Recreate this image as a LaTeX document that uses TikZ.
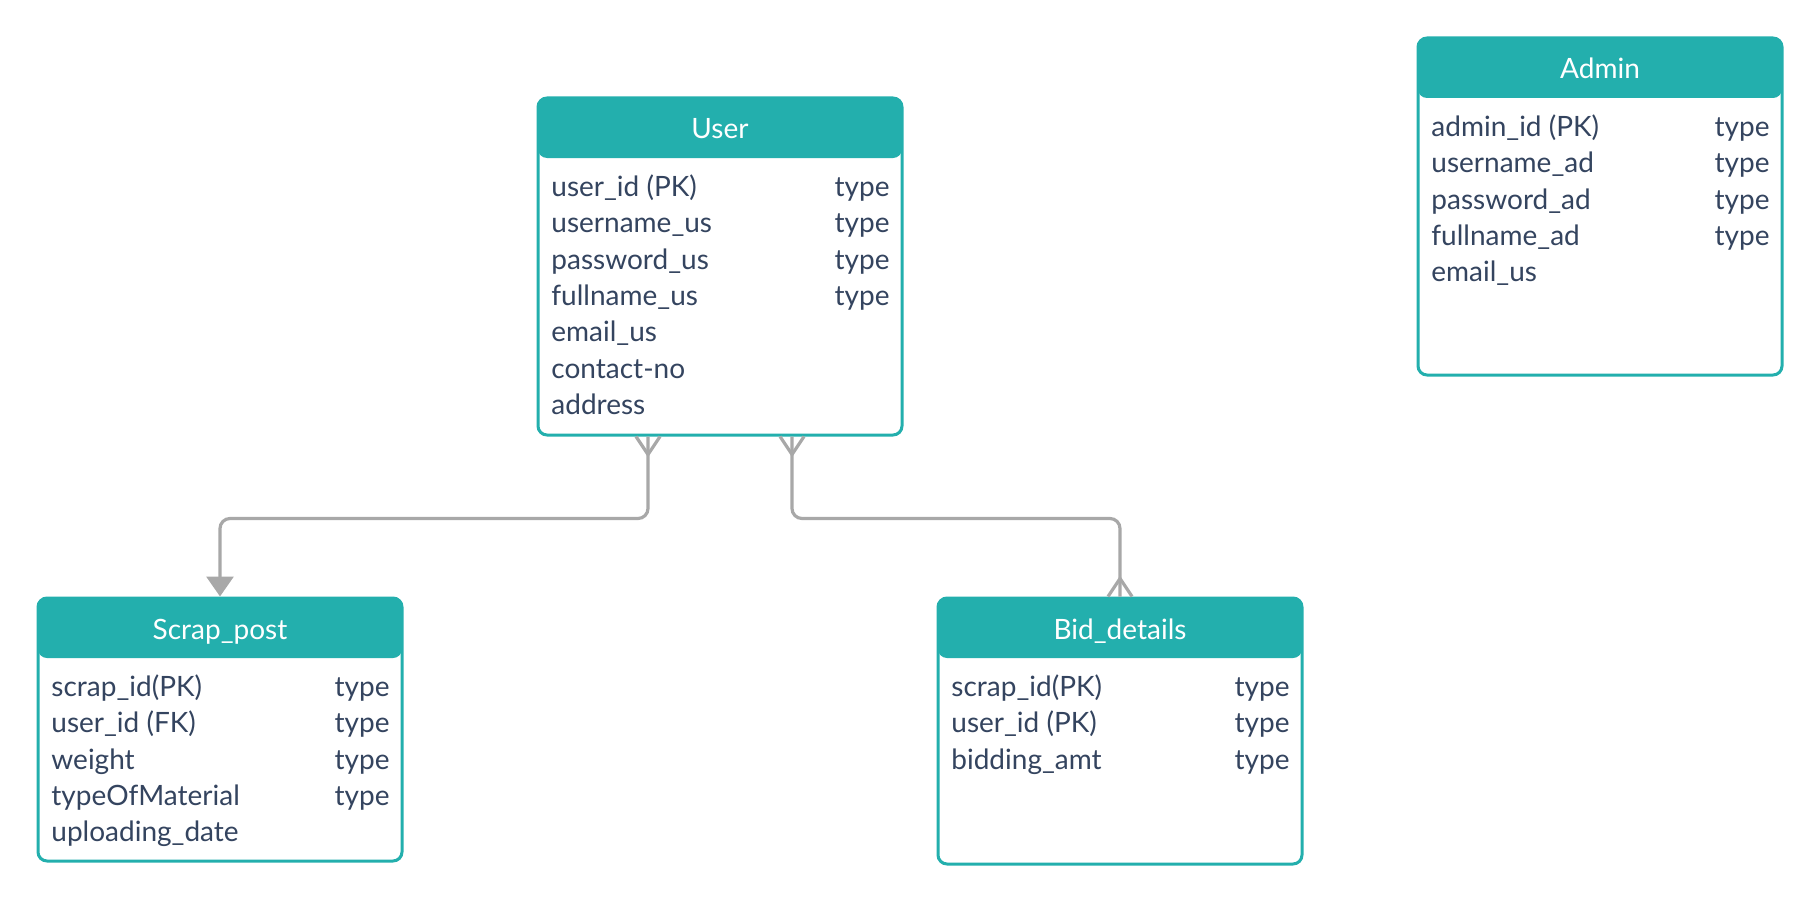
\documentclass[tikz,border=0pt]{standalone}
\usepackage{fontspec}
\setmainfont{Lato}
\usetikzlibrary{arrows.meta, calc}
\definecolor{headteal}{HTML}{23AFAD}
\definecolor{fieldtext}{HTML}{34445F}
\definecolor{linkgrey}{HTML}{A8A8A8}

\begin{document}
\begin{tikzpicture}[x=0.5pt, y=-0.5pt]
    \tikzstyle{entity} = [rectangle, rounded corners=4.5pt, draw=headteal, line width=1.5pt, fill=white, inner sep=0pt, minimum width=182pt, path picture={\fill[headteal] (path picture bounding box.north west) rectangle ([yshift=-30pt]path picture bounding box.north east);}]
    \tikzstyle{title} = [text=white, inner sep=0pt, anchor=base, font=\fontsize{14pt}{16pt}\selectfont]
    \tikzstyle{field} = [text=fieldtext, inner sep=0pt, anchor=base west, font=\fontsize{14pt}{16pt}\selectfont]
    \tikzstyle{ftype} = [text=fieldtext, inner sep=0pt, anchor=base east, font=\fontsize{14pt}{16pt}\selectfont]
    \tikzstyle{link}  = [line width=1.6pt, draw=linkgrey, rounded corners=5pt]
    \useasboundingbox (0,0) rectangle (1820,904);

    % User
    \node (user) [entity, minimum height=168.5pt] at (720,266.5) {};
    \node (usert) [title] at (720,139) {User};
    \node (us1) [field] at (551,196) {user\_id (PK)};
    \node (us2) [field] at (551,232) {username\_us};
    \node (us3) [field] at (551,269) {password\_us};
    \node (us4) [field] at (551,305) {fullname\_us};
    \node (us5) [field] at (551,341) {email\_us};
    \node (us6) [field] at (551,378) {contact-no};
    \node (us7) [field] at (551,414) {address};
    \node (ut1) [ftype] at (890,196) {type};
    \node (ut2) [ftype] at (890,232) {type};
    \node (ut3) [ftype] at (890,269) {type};
    \node (ut4) [ftype] at (890,305) {type};

    % Admin
    \node (admin) [entity, minimum height=168.5pt] at (1600,206.5) {};
    \node (admint) [title] at (1600,79) {Admin};
    \node (ad1) [field] at (1431,136) {admin\_id (PK)};
    \node (ad2) [field] at (1431,172) {username\_ad};
    \node (ad3) [field] at (1431,209) {password\_ad};
    \node (ad4) [field] at (1431,245) {fullname\_ad};
    \node (ad5) [field] at (1431,281) {email\_us};
    \node (at1) [ftype] at (1770,136) {type};
    \node (at2) [ftype] at (1770,172) {type};
    \node (at3) [ftype] at (1770,209) {type};
    \node (at4) [ftype] at (1770,245) {type};

    % Scrap_post
    \node (scrap) [entity, minimum height=131.5pt] at (220,729.5) {};
    \node (scrapt) [title] at (220,639) {Scrap\_post};
    \node (sp1) [field] at (51,696) {scrap\_id(PK)};
    \node (sp2) [field] at (51,732) {user\_id (FK)};
    \node (sp3) [field] at (51,769) {weight};
    \node (sp4) [field] at (51,805) {typeOfMaterial};
    \node (sp5) [field] at (51,841) {uploading\_date};
    \node (st1) [ftype] at (390,696) {type};
    \node (st2) [ftype] at (390,732) {type};
    \node (st3) [ftype] at (390,769) {type};
    \node (st4) [ftype] at (390,805) {type};

    % Bid_details
    \node (bid) [entity, minimum height=133pt] at (1120,731) {};
    \node (bidt) [title] at (1120,639) {Bid\_details};
    \node (bd1) [field] at (951,696) {scrap\_id(PK)};
    \node (bd2) [field] at (951,732) {user\_id (PK)};
    \node (bd3) [field] at (951,769) {bidding\_amt};
    \node (bt1) [ftype] at (1290,696) {type};
    \node (bt2) [ftype] at (1290,732) {type};
    \node (bt3) [ftype] at (1290,769) {type};

    % links
    \coordinate (ul) at ($(user.south)+(-72,0)$);
    \coordinate (ur) at ($(user.south)+(72,0)$);
    \coordinate (bn) at (bid.north);
    \draw[link, -{Triangle[length=10pt, width=13.5pt]}] (ul) -- ++(0,82) -| (scrap.north);
    \draw[link] (ur) -- ++(0,82) -| (bid.north);
    \draw[link, rounded corners=0pt] ($(ul)+(-12,0)$) -- ($(ul)+(0,18)$) -- ($(ul)+(12,0)$);
    \draw[link, rounded corners=0pt] ($(ur)+(-12,0)$) -- ($(ur)+(0,18)$) -- ($(ur)+(12,0)$);
    \draw[link, rounded corners=0pt] ($(bn)+(-12,0)$) -- ($(bn)+(0,-18)$) -- ($(bn)+(12,0)$);
\end{tikzpicture}
\end{document}
